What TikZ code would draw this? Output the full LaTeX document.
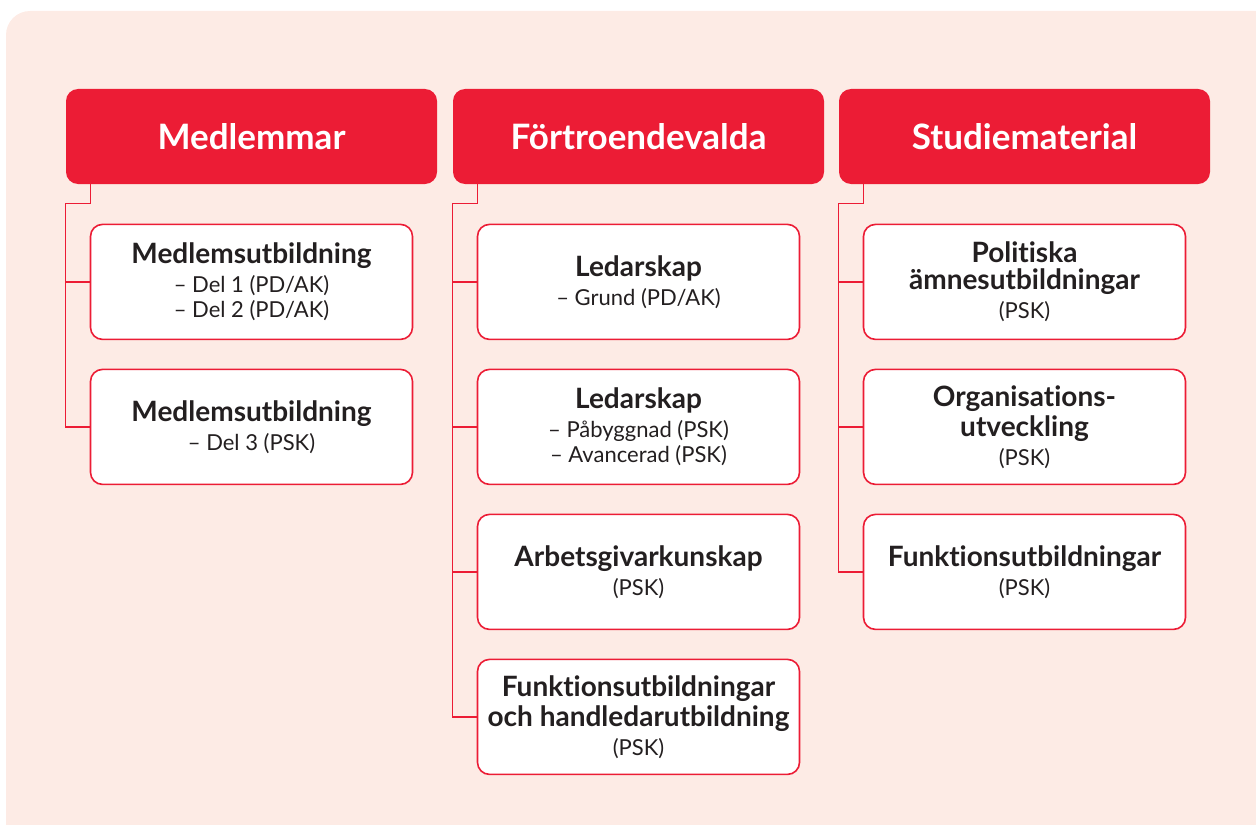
\documentclass[tikz,border=0pt]{standalone}
\usepackage{fontspec}
\setmainfont{Lato}[Ligatures={TeX,NoCommon}]
\usetikzlibrary{positioning,calc}
\definecolor{fsred}{HTML}{EC1C35}
\definecolor{fsbg}{HTML}{FDEBE5}
\definecolor{fstext}{HTML}{231F20}
\newcommand{\rubrik}[1]{{\fontsize{14}{14}\selectfont\bfseries #1}}

\begin{document}
\begin{tikzpicture}[x=0.5pt, y=-0.5pt,
    header/.style={fill=fsred, rounded corners=6pt, minimum width=185.5pt,
      minimum height=47.5pt, inner sep=0pt, text=white,
      font=\fontsize{17.5}{19}\selectfont\bfseries},
    kurs/.style={draw=fsred, line width=0.8pt, fill=white, rounded corners=6pt,
      minimum width=161pt, minimum height=57.5pt, inner sep=0pt, outer sep=0pt,
      align=center, text=fstext, font=\fontsize{11}{12.5}\selectfont},
    link/.style={draw=fsred, line width=0.75pt}]

  % ---- Background ----
  \useasboundingbox (0,0) rectangle (1256,824);
  \fill[fsbg, rounded corners=12pt] (6,11) rectangle (1300,870);

  % ---- Headers ----
  \node[header] (h1) at (251.5,136.5) {Medlemmar};
  \node[header] (h2) at (638.5,136.5) {Förtroendevalda};
  \node[header] (h3) at (1024.5,136.5) {Studiematerial};

  % ---- Medlemmar ----
  \node[kurs, below=20pt of h1] (a1)
    {\rubrik{Medlemsutbildning}\\[2pt]– Del 1 (PD/AK)\\– Del 2 (PD/AK)};
  \node[kurs, below=15pt of a1] (a2)
    {\rubrik{Medlemsutbildning}\\[2pt]– Del 3 (PSK)};

  % ---- Förtroendevalda ----
  \node[kurs, below=20pt of h2] (b1)
    {\rubrik{Ledarskap}\\[2pt]– Grund (PD/AK)};
  \node[kurs, below=15pt of b1] (b2)
    {\rubrik{Ledarskap}\\[2pt]– Påbyggnad (PSK)\\– Avancerad (PSK)};
  \node[kurs, below=15pt of b2] (b3)
    {\rubrik{Arbetsgivarkunskap}\\[2pt](PSK)};
  \node[kurs, below=15pt of b3] (b4)
    {\rubrik{Funktionsutbildningar}\\[1pt]\rubrik{och handledarutbildning}\\[2pt](PSK)};

  % ---- Studiematerial ----
  \node[kurs, below=20pt of h3] (c1)
    {\rubrik{Politiska}\\[1pt]\rubrik{ämnesutbildningar}\\[2pt](PSK)};
  \node[kurs, below=15pt of c1] (c2)
    {\rubrik{Organisations-}\\[1pt]\rubrik{utveckling}\\[2pt](PSK)};
  \node[kurs, below=15pt of c2] (c3)
    {\rubrik{Funktionsutbildningar}\\[2pt](PSK)};

  % ---- Connectors ----
  \coordinate (k1) at ($(a1.north west |- h1.south)+(-25,19)$);
  \coordinate (k2) at ($(b1.north west |- h2.south)+(-25,19)$);
  \coordinate (k3) at ($(c1.north west |- h3.south)+(-25,19)$);
  \draw[link] (a1.north west |- h1.south) |- (k1) |- (a2.west);
  \draw[link] (b1.north west |- h2.south) |- (k2) |- (b4.west);
  \draw[link] (c1.north west |- h3.south) |- (k3) |- (c3.west);
  \foreach \n/\k in {a1/k1, b1/k2, b2/k2, b3/k2, c1/k3, c2/k3}{
    \draw[link] (\k |- \n.west) -- (\n.west);
  }

\end{tikzpicture}
\end{document}
